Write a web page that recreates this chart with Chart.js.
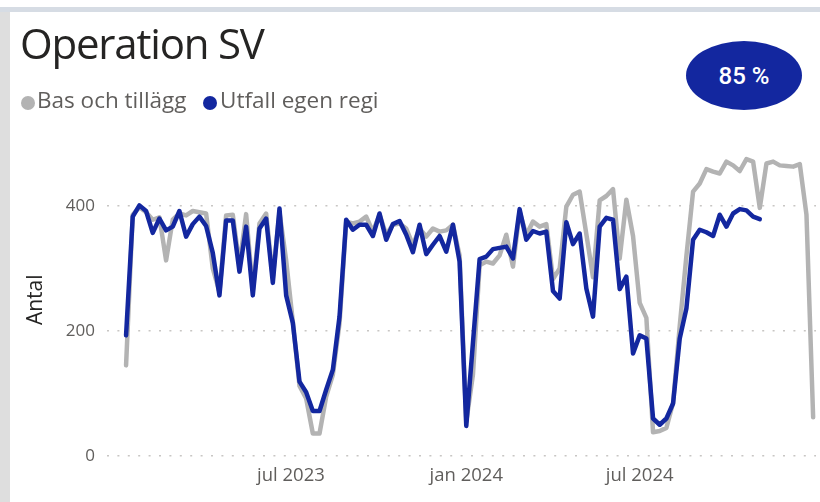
<!DOCTYPE html>
<html>
<head>
<meta charset="utf-8">
<script src="https://cdn.jsdelivr.net/npm/chart.js@4.4.0/dist/chart.umd.min.js"></script>
<style>
    html, body {
        margin: 0;
        padding: 0;
        background: #ffffff;
        width: 820px;
        height: 502px;
        overflow: hidden;
        font-family: "Open Sans", "Noto Sans", sans-serif;
    }
    .topband {
        position: absolute;
        left: 0;
        top: 7px;
        width: 820px;
        height: 5px;
        background: #d6dce4;
    }
    .leftband {
        position: absolute;
        left: 0;
        top: 12px;
        width: 10px;
        height: 490px;
        background: #dedede;
    }
    .title {
        position: absolute;
        left: 20px;
        top: 14px;
        font-size: 42px;
        line-height: 57px;
        color: #252423;
        letter-spacing: -1.2px;
        white-space: nowrap;
    }
    .legend-text {
        position: absolute;
        top: 85px;
        font-size: 22.5px;
        line-height: 30px;
        color: #605e5c;
        white-space: nowrap;
    }
    .dot {
        position: absolute;
        top: 96px;
        width: 14px;
        height: 14px;
        border-radius: 50%;
    }
    .badge {
        position: absolute;
        left: 686px;
        top: 41px;
        width: 116px;
        height: 69px;
        border-radius: 50%;
        background: #13279f;
        color: #ffffff;
        font-family: Roboto, sans-serif;
        font-size: 24px;
        font-weight: 500;
        line-height: 70px;
        text-align: center;
    }
    canvas {
        position: absolute;
        left: 0;
        top: 0;
    }
</style>
</head>
<body>
<div class="topband"></div>
<div class="leftband"></div>
<canvas id="chart" width="820" height="502"></canvas>
<div class="title">Operation SV</div>
<span class="dot" style="left:21px; background:#b3b3b3"></span>
<span class="legend-text" style="left:37px">Bas och tillägg</span>
<span class="dot" style="left:203px; background:#13279f"></span>
<span class="legend-text" style="left:220px">Utfall egen regi</span>
<div class="badge">85 %</div>
<script>
// weekly series, first week starting 2023-01-09
const startDate = "2023-01-09";

const basOchTillagg = [
    145, 386, 398, 390, 378, 382, 313, 378, 388, 385,
    392, 390, 388, 300, 262, 385, 386, 305, 387, 265,
    372, 388, 285, 390, 313, 215, 112, 92, 36, 36,
    95, 130, 212, 375, 372, 375, 383, 359, 386, 354,
    370, 372, 364, 338, 364, 351, 364, 359, 361, 370,
    321, 55, 130, 305, 311, 308, 321, 354, 303, 391,
    354, 375, 367, 371, 283, 300, 399, 418, 423, 355,
    286, 409, 416, 427, 316, 410, 352, 245, 221, 38,
    40, 45, 85, 208, 320, 423, 436, 459, 455, 452,
    471, 465, 456, 475, 471, 397, 468, 471, 465, 464,
    463, 467, 386, 62
];

const utfallEgenRegi = [
    193, 383, 401, 392, 357, 380, 361, 367, 392, 351,
    371, 383, 368, 325, 257, 377, 377, 295, 367, 257,
    364, 380, 277, 396, 257, 213, 119, 102, 72, 72,
    106, 138, 223, 378, 362, 370, 370, 352, 388, 346,
    371, 376, 354, 326, 370, 323, 338, 352, 327, 370,
    311, 48, 181, 315, 319, 331, 333, 335, 316, 395,
    346, 360, 356, 359, 264, 252, 374, 339, 356, 268,
    223, 367, 381, 378, 267, 287, 164, 193, 188, 60,
    50, 60, 84, 188, 236, 346, 362, 358, 352, 386,
    367, 388, 395, 393, 383, 379
];

const xTickDates = ["2023-07-01", "2024-01-01", "2024-07-01"];
const xTickLabels = ["jul 2023", "jan 2024", "jul 2024"];
const yTicks = [0, 200, 400];

const day = (d) => Date.parse(d + "T00:00:00Z") / 86400000;
const start = day(startDate);
const toPoints = (values) => values.map((v, i) => ({ x: start + i * 7, y: v }));

const ctx = document.getElementById("chart").getContext("2d");
new Chart(ctx, {
    type: "line",
    data: {
        datasets: [
            {
                label: "Bas och tillägg",
                data: toPoints(basOchTillagg),
                borderColor: "#b3b3b3",
                borderWidth: 4.5,
                pointRadius: 0,
                tension: 0,
                borderJoinStyle: "round",
                borderCapStyle: "round",
                order: 1,
            },
            {
                label: "Utfall egen regi",
                data: toPoints(utfallEgenRegi),
                borderColor: "#13279f",
                borderWidth: 4.5,
                pointRadius: 0,
                tension: 0,
                borderJoinStyle: "round",
                borderCapStyle: "round",
                order: 0,
            },
        ],
    },
    options: {
        responsive: false,
        animation: false,
        layout: {
            padding: { top: 143.5, left: 20, right: 4, bottom: 16 },
        },
        plugins: {
            legend: { display: false },
            tooltip: { enabled: false },
        },
        scales: {
            x: {
                type: "linear",
                min: start - 20,
                max: start + 724,
                grid: { display: false, drawTicks: false },
                border: { display: false },
                afterBuildTicks: (scale) => {
                    scale.ticks = xTickDates.map((d) => ({ value: day(d) }));
                },
                afterFit: (scale) => {
                    scale.height = 30;
                },
                ticks: {
                    autoSkip: false,
                    maxRotation: 0,
                    padding: 9,
                    color: "#605e5c",
                    font: { family: "Open Sans", size: 18.5 },
                    callback: (value, index) => xTickLabels[index],
                },
            },
            y: {
                min: 0,
                max: 500,
                afterBuildTicks: (scale) => {
                    scale.ticks = yTicks.map((v) => ({ value: v }));
                },
                afterFit: (scale) => {
                    scale.width = 87;
                },
                border: { display: false, dash: [2, 8.4] },
                grid: {
                    drawTicks: false,
                    color: "#c8c6c4",
                    lineWidth: 1.5,
                },
                title: {
                    display: true,
                    text: "Antal",
                    color: "#252423",
                    font: { family: "Open Sans", size: 21 },
                    padding: { top: 3, bottom: 0 },
                },
                ticks: {
                    padding: 12,
                    color: "#605e5c",
                    font: { family: "Open Sans", size: 17 },
                },
            },
        },
    },
});
</script>
</body>
</html>
